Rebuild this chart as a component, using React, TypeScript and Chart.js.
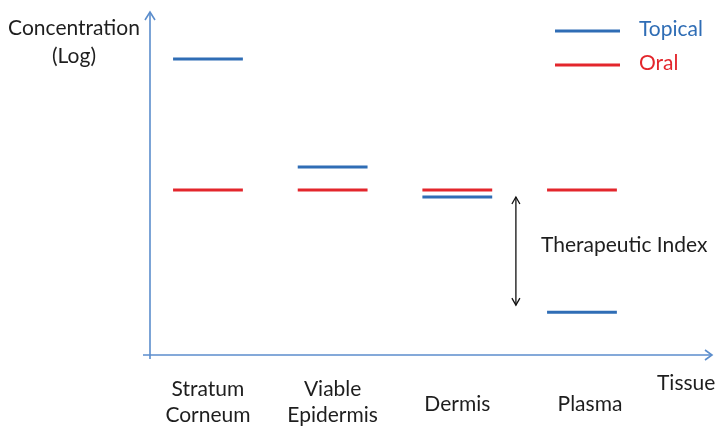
import React, { useEffect, useRef } from "react";
import { Chart, registerables } from "chart.js";

Chart.register(...registerables);

// Tissue compartments along the x axis (label lines per category)
const tissues: string[][] = [["Stratum", "Corneum"], ["Viable", "Epidermis"], ["Dermis"], ["Plasma"]];
// Relative log concentration per tissue
const topical: number[] = [8.63, 5.48, 4.61, 1.25];
const oral: number[] = [4.81, 4.81, 4.81, 4.81];
const seriesNames: string[] = ["Topical", "Oral"];

const BLUE = "#2f6db5";
const RED = "#e3262c";
const AXIS = "#5b8dcc";
const TEXT = "#1e1e1e";
const FONT = "Lato, 'Open Sans', sans-serif";
const HALF = 0.28;

function segments(values: number[]) {
  const pts: { x: number; y: number | null }[] = [];
  values.forEach((v, i) => {
    pts.push({ x: i - HALF, y: v });
    pts.push({ x: i + HALF, y: v });
    pts.push({ x: i + 0.5, y: null });
  });
  return pts;
}

const chevron = (ctx: CanvasRenderingContext2D, x: number, y: number, dx1: number, dy1: number, dx2: number, dy2: number) => {
  ctx.beginPath();
  ctx.moveTo(x + dx1, y + dy1);
  ctx.lineTo(x, y);
  ctx.lineTo(x + dx2, y + dy2);
  ctx.stroke();
};

const decorations = {
  id: "decorations",
  beforeDatasetsDraw(chart: any) {
    const { ctx, chartArea } = chart;
    const { left, right, top, bottom } = chartArea;
    ctx.save();
    ctx.strokeStyle = AXIS;
    ctx.lineWidth = 1.6;
    // y axis with arrow
    ctx.beginPath();
    ctx.moveTo(left, bottom + 4);
    ctx.lineTo(left, top);
    ctx.stroke();
    chevron(ctx, left, top, -5, 8, 5, 8);
    // x axis with arrow
    ctx.beginPath();
    ctx.moveTo(left - 7, bottom);
    ctx.lineTo(right, bottom);
    ctx.stroke();
    chevron(ctx, right, bottom, -7, -5, -7, 5);
    ctx.restore();
  },
  afterDatasetsDraw(chart: any) {
    const { ctx, scales } = chart;
    const xs = scales.x;
    const ys = scales.y;
    ctx.save();
    ctx.fillStyle = TEXT;
    ctx.font = `21px ${FONT}`;
    ctx.textAlign = "center";
    ctx.textBaseline = "middle";
    // y axis title
    ctx.fillText("Concentration", 74, 28);
    ctx.fillText("(Log)", 74, 56);
    // category labels
    tissues.forEach((lines, i) => {
      const x = xs.getPixelForValue(i);
      if (lines.length === 2) {
        ctx.fillText(lines[0], x, 389);
        ctx.fillText(lines[1], x, 415);
      } else {
        ctx.fillText(lines[0], x + (i === 3 ? 8 : 0), 404);
      }
    });
    ctx.textAlign = "left";
    ctx.fillText("Tissues", 657, 383);

    // legend
    const colors = [BLUE, RED];
    const ly = [31, 65];
    seriesNames.forEach((name, k) => {
      ctx.strokeStyle = colors[k];
      ctx.lineWidth = 3;
      ctx.beginPath();
      ctx.moveTo(555, ly[k]);
      ctx.lineTo(620, ly[k]);
      ctx.stroke();
      ctx.fillStyle = colors[k];
      ctx.fillText(name, 639, ly[k] - 2);
    });

    // therapeutic index arrow between oral and topical plasma levels
    const ax = xs.getPixelForValue(2.47);
    const y1 = ys.getPixelForValue(oral[3]) + 7;
    const y2 = ys.getPixelForValue(topical[3]) - 7;
    ctx.strokeStyle = "#111";
    ctx.lineWidth = 1.3;
    ctx.beginPath();
    ctx.moveTo(ax, y1);
    ctx.lineTo(ax, y2);
    ctx.stroke();
    chevron(ctx, ax, y1, -4, 7, 4, 7);
    chevron(ctx, ax, y2, -4, -7, 4, -7);
    ctx.fillStyle = TEXT;
    ctx.fillText("Therapeutic Index", 541, (y1 + y2) / 2 - 6);
    ctx.restore();
  },
};

export default function App() {
  const ref = useRef<HTMLCanvasElement | null>(null);
  useEffect(() => {
    if (!ref.current) return;
    const chart = new Chart(ref.current, {
      type: "line",
      data: {
        datasets: [
          {
            label: seriesNames[0],
            data: segments(topical) as any,
            borderColor: BLUE,
            borderWidth: 3,
            pointRadius: 0,
            spanGaps: false,
          },
          {
            label: seriesNames[1],
            data: segments(oral) as any,
            borderColor: RED,
            borderWidth: 3,
            pointRadius: 0,
            spanGaps: false,
          },
        ],
      },
      options: {
        animation: false,
        responsive: false,
        events: [],
        layout: { padding: { left: 150, right: 4, top: 12, bottom: 72 } },
        plugins: { legend: { display: false }, tooltip: { enabled: false } },
        scales: {
          x: { type: "linear", min: -0.465, max: 4.043, display: false },
          y: { type: "linear", min: 0, max: 10, display: false },
        },
      },
      plugins: [decorations],
    });
    return () => chart.destroy();
  }, []);
  return (
    <div style={{ position: "absolute", left: 0, top: 0, width: 716, height: 427, background: "#fff" }}>
      <canvas ref={ref} width={716} height={427} />
    </div>
  );
}
